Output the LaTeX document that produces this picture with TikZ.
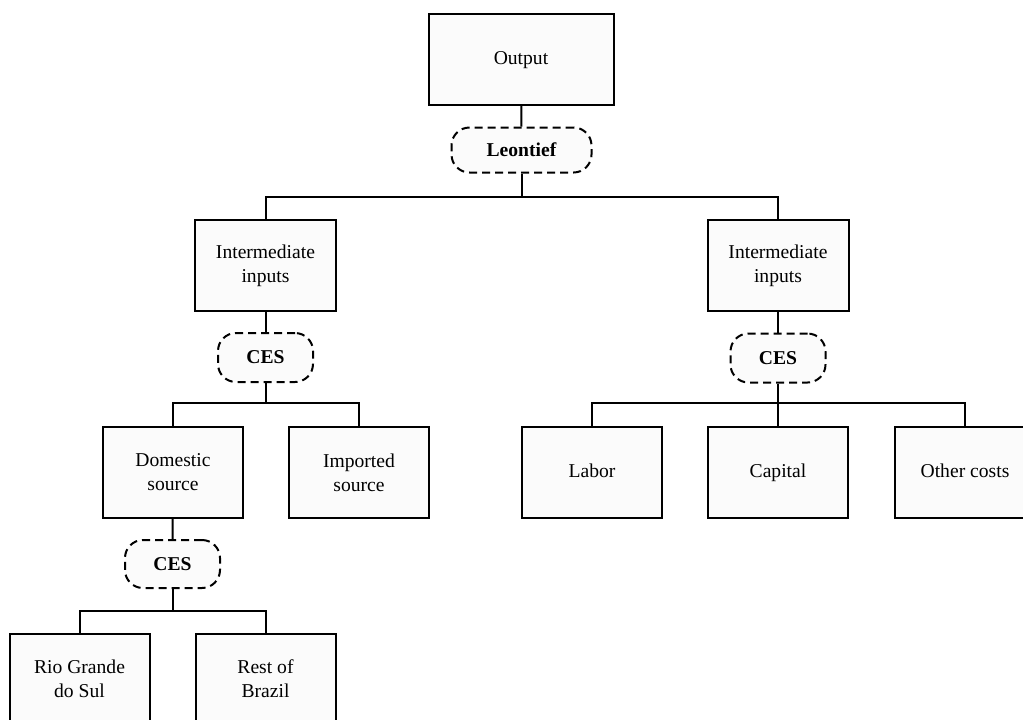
\documentclass[tikz,border=0pt]{standalone}
\usepackage{fontspec}
\setmainfont{Liberation Serif}
\begin{document}
\begin{tikzpicture}[x=0.5pt, y=-0.5pt, font=\fontsize{9.8}{12}\selectfont,
  box/.style={shape=rectangle, draw=black, line width=1pt, fill=gray!3, align=center, inner sep=0pt},
  oneline/.style={text height=1.55ex, text depth=0.45ex},
  nest/.style={shape=rectangle, draw=black, line width=1pt, dash pattern=on 4pt off 2.5pt, rounded corners=9pt, fill=gray!3, font=\fontsize{9.8}{12}\selectfont\bfseries, inner sep=0pt},
  link/.style={-, line width=1pt, draw=black}]
\path[use as bounding box, clip] (0,0) rectangle (1023,719);
\node[box, oneline, minimum width=92.5pt, minimum height=45.5pt] (out) at (521,59) {Output};
\node[nest, minimum width=70pt, minimum height=22.5pt] (leon) at (521.5,150) {Leontief};
\node[box, minimum width=70.5pt, minimum height=45.5pt] (ii1) at (265.5,265.5) {Intermediate\\inputs};
\node[box, minimum width=70.5pt, minimum height=45.5pt] (ii2) at (778,265.5) {Intermediate\\inputs};
\node[nest, minimum width=47.5pt, minimum height=24.5pt] (ces1) at (265.5,357.5) {CES};
\node[nest, minimum width=47.5pt, minimum height=24.5pt] (ces2) at (778,358) {CES};
\node[box, minimum width=70pt, minimum height=45.5pt] (dom) at (173,472.5) {Domestic\\source};
\node[box, minimum width=70pt, minimum height=45.5pt] (imp) at (359,472.5) {Imported\\source};
\node[box, oneline, minimum width=70pt, minimum height=45.5pt] (lab) at (592,472.5) {Labor};
\node[box, oneline, minimum width=70pt, minimum height=45.5pt] (cap) at (778,472.5) {Capital};
\node[box, oneline, minimum width=70pt, minimum height=45.5pt] (oth) at (965,472.5) {Other costs};
\node[nest, minimum width=47.5pt, minimum height=24pt] (ces3) at (172.5,564) {CES};
\node[box, minimum width=70pt, minimum height=45.5pt] (rgs) at (79.5,679) {Rio Grande\\do Sul};
\node[box, minimum width=70pt, minimum height=45.5pt] (rob) at (265.5,679) {Rest of\\Brazil};
% branching points
\coordinate (b1) at (521.5,197);
\coordinate (b2) at (265.5,403);
\coordinate (b3) at (778,403);
\coordinate (b4) at (172.5,611);
\path [link] (out) edge (leon);
\path [link] (leon) edge (b1);
\draw [link] (b1) -| (ii1);
\draw [link] (b1) -| (ii2);
\path [link] (ii1) edge (ces1);
\path [link] (ii2) edge (ces2);
\path [link] (ces1) edge (b2);
\draw [link] (b2) -| (dom);
\draw [link] (b2) -| (imp);
\path [link] (ces2) edge (b3);
\draw [link] (b3) -| (lab);
\draw [link] (b3) -| (cap);
\draw [link] (b3) -| (oth);
\path [link] (dom) edge (ces3);
\path [link] (ces3) edge (b4);
\draw [link] (b4) -| (rgs);
\draw [link] (b4) -| (rob);
\end{tikzpicture}
\end{document}
